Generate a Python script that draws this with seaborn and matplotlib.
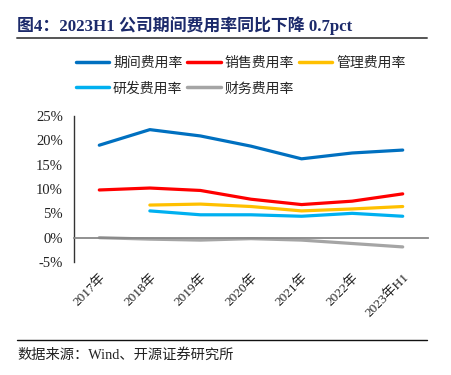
#!/usr/bin/env python

import numpy as np
import pandas as pd
import seaborn as sns
import matplotlib.pyplot as plt
from matplotlib.lines import Line2D
from matplotlib.ticker import FixedLocator

years = ['2017年', '2018年', '2019年', '2020年', '2021年', '2022年', '2023年H1']
period_rate = [19.0, 22.2, 20.9, 18.8, 16.2, 17.4, 18.0]
sales_rate = [9.8, 10.2, 9.7, 7.9, 6.8, 7.5, 9.0]
admin_rate = [np.nan, 6.7, 6.9, 6.4, 5.5, 5.9, 6.4]
rd_rate = [np.nan, 5.5, 4.7, 4.7, 4.4, 5.0, 4.4]
finance_rate = [0.0, -0.3, -0.5, -0.2, -0.5, -1.2, -1.9]

series_names = ['期间费用率', '销售费用率', '管理费用率', '研发费用率', '财务费用率']
colors = ['#0070C0', '#FF0000', '#FFC000', '#00B0F0', '#A5A5A5']

CJK = ['Noto Sans CJK SC', 'DejaVu Sans']
SERIF = ['Liberation Serif', 'Noto Sans CJK SC']


def main():
    sns.set_style('white')
    plt.rcParams['font.family'] = CJK

    values = [period_rate, sales_rate, admin_rate, rd_rate, finance_rate]
    df = pd.DataFrame({
        'pos': list(range(len(years))) * len(series_names),
        'series': [n for n in series_names for _ in years],
        'value': [v for vals in values for v in vals],
    }).dropna()

    fig = plt.figure(figsize=(4.51, 3.75), dpi=100, facecolor='w')
    W, H = 451, 375
    ax = fig.add_axes([74 / W, 1 - 262 / H, (428 - 74) / W, (262 - 116) / H])

    sns.lineplot(data=df, x='pos', y='value', hue='series',
                 hue_order=series_names, palette=colors,
                 linewidth=2.3, sort=False, errorbar=None,
                 legend=False, ax=ax)

    ax.set_xlim(-0.5, len(years) - 0.5)
    ax.set_ylim(-5, 25)
    ax.set_xlabel('')
    ax.set_ylabel('')

    # spines first: set_position resets the ticks
    for side in ['top', 'right']:
        ax.spines[side].set_visible(False)
    ax.spines['left'].set_color('#333333')
    ax.spines['left'].set_linewidth(1)
    ax.spines['bottom'].set_position(('data', 0))
    ax.spines['bottom'].set_color('#888888')
    ax.spines['bottom'].set_linewidth(1.3)
    ax.grid(False)

    ax.tick_params(axis='y', direction='in', length=3, width=1,
                   color='#333333', pad=8)
    ax.tick_params(axis='x', which='major', length=0, pad=24)
    ax.tick_params(axis='x', which='minor', direction='in', length=3,
                   width=1, color='#555555')
    ax.xaxis.set_minor_locator(FixedLocator(np.arange(0.5, len(years) - 1, 1)))

    ax.set_yticks(range(-5, 30, 5))
    ax.set_yticklabels(['{}%'.format(v) for v in range(-5, 30, 5)])
    ax.set_xticks(range(len(years)))
    ax.set_xticklabels(years)
    plt.setp(ax.get_yticklabels(), family=SERIF, fontsize=10.5,
             color='#222222')
    plt.setp(ax.get_xticklabels(), family=SERIF, fontsize=9.5, rotation=45,
             ha='right', va='top', rotation_mode='anchor', color='#222222')

    # legend fills column-wise, reorder so rows read left to right
    order = [0, 3, 1, 4, 2]
    handles = [Line2D([], [], color=colors[i], linewidth=2.5) for i in order]
    labels = [series_names[i] for i in order]
    fig.legend(handles, labels, ncol=3, loc='upper left',
               bbox_to_anchor=(63 / W, 1 - 43 / H), frameon=False,
               prop={'family': CJK, 'size': 10}, handlelength=2.4,
               handletextpad=0.3, columnspacing=0.35, labelspacing=0.85)

    fig.text(17 / W, 1 - 26 / H, '图4：2023H1 公司期间费用率同比下降 0.7pct',
             family=['Liberation Serif', 'Noto Sans CJK SC'],
             fontweight='bold', fontsize=12.2, color='#1C2A6B', va='center')
    fig.add_artist(Line2D([17 / W, 427 / W], [1 - 38 / H, 1 - 38 / H],
                          color='#555555', linewidth=1.4))
    fig.add_artist(Line2D([17 / W, 427 / W], [1 - 340 / H, 1 - 340 / H],
                          color='#111111', linewidth=1.0))
    fig.text(17 / W, 1 - 355 / H, '数据来源：Wind、开源证券研究所',
             family=['Liberation Serif', 'Noto Sans CJK SC'],
             fontsize=10.3, color='#222222', va='center')

    fig.savefig('out.png', dpi=100, facecolor='w')


if __name__ == '__main__':
    main()
